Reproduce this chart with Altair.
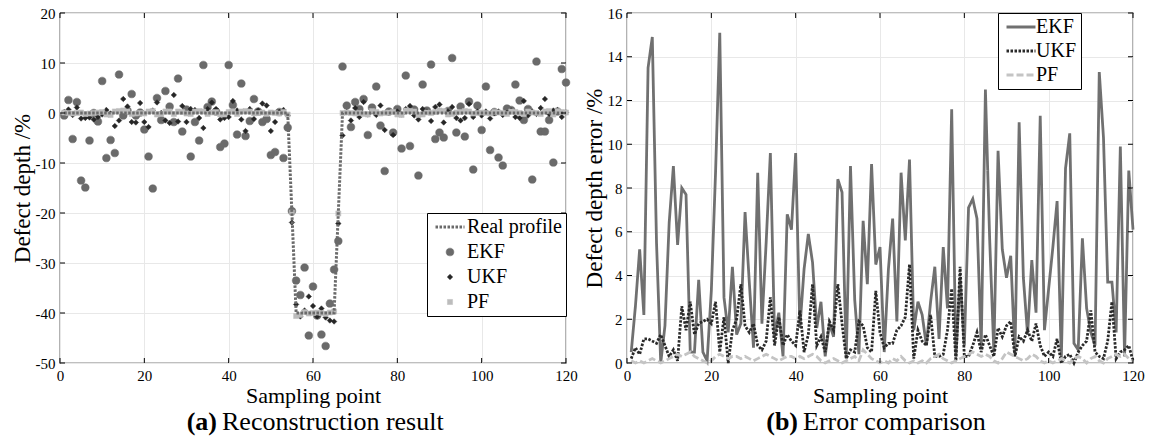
import altair as alt
import pandas as pd

# ---------------- data ----------------
sample = list(range(1, 121))

real_profile = [0.0] * 54 + [-20.0] + [-40.0] * 10 + [-20.0] + [0.0] * 54

ekf = [-0.5, 2.6, -5.2, 2.2, -13.5, -14.9, -5.5, 0.0, -1.7, 6.4,
       -9.0, -5.4, -8.0, 7.7, -0.5, 0.5, 3.8, -0.5, 0.1, -3.3,
       -8.7, -15.1, 3.0, -1.4, 4.4, 1.3, -1.8, 6.9, -3.7, 0.7,
       -8.7, -1.8, -5.5, 9.6, 1.2, 2.3, 0.3, -6.8, -6.1, 9.6,
       1.6, -4.3, 5.9, -4.6, -1.6, 2.8, 0.3, -1.8, -1.2, -8.4,
       -7.8, 0.2, -9.0, -2.9, -19.6, -33.5, -36.4, -30.9, -44.5, -34.7,
       -40.5, -44.3, -46.6, -38.1, -31.3, -25.6, 9.3, 1.5, -2.8, 2.2,
       0.8, 2.8, -4.4, 1.1, 5.3, -2.5, -11.6, 0.3, -3.9, 0.8,
       -7.1, 7.5, -6.6, 0.7, -12.5, 5.7, 0.5, 9.7, -5.2, -3.9,
       -4.9, 0.4, 11.0, -3.9, 1.3, -4.7, 2.3, -11.3, 1.5, -3.4,
       5.3, -7.4, 0.2, -8.9, -10.5, 0.9, 0.6, 5.7, 2.5, -1.4,
       0.8, -13.3, 10.3, -3.7, -3.7, -1.4, -9.9, 0.3, 8.8, 6.1]

ukf = [0.2, 0.7, -0.4, 1.1, -1.1, -1.0, -0.9, -1.3, -0.8, -0.3,
       0.6, -0.1, -2.6, -1.5, 2.8, 1.3, -1.8, -1.9, 2.0, -1.8,
       -2.8, 0.5, 2.1, 0.0, -1.5, -2.0, 3.6, -1.7, 1.4, -1.8,
       0.8, 0.6, -1.0, -3.0, 0.8, 2.1, 0.8, -1.3, -1.0, -0.8,
       2.4, 0.5, -1.3, -3.6, 0.8, -1.2, 0.5, 1.9, 1.5, -3.6,
       -1.8, 0.2, 0.6, -0.5, -21.9, -38.3, -40.7, -39.5, -36.7, -38.6,
       -40.7, -39.1, -40.9, -41.5, -41.7, -22.1, -4.5, 0.2, -1.5, 1.0,
       -0.8, 2.2, -0.3, 0.3, -0.4, 1.5, -3.4, 0.1, -4.4, 0.3,
       -0.3, 0.8, 1.4, -0.5, -1.3, 0.8, 0.3, -1.6, 1.2, 1.7,
       -1.9, 0.3, 1.2, -1.0, -1.5, -1.0, 1.8, -0.8, 0.3, -0.5,
       0.3, -1.1, 0.0, 0.3, -0.4, 0.0, 0.5, -0.8, -1.0, 2.4,
       -0.5, 0.3, -0.2, 1.0, 2.8, -0.2, 0.5, 0.6, -0.8, 0.1]

pf = [0.1, 0.0, -0.1, 0.0, 0.1, -0.2, -0.1, 0.0, 0.1, 0.2,
      -0.3, -0.4, 0.3, 0.4, 0.5, 0.3, -0.2, -0.1, 0.0, -0.1,
      0.3, 0.4, -0.3, -0.2, 0.3, 0.3, -0.2, 0.3, 0.2, -0.1,
      -0.2, 0.3, 0.4, 0.3, -0.2, 0.1, 0.2, -0.3, -0.3, 0.2,
      0.3, -0.2, 0.3, 0.4, 0.3, -0.1, 0.0, 0.1, -0.2, 0.1,
      0.0, -0.1, 0.2, -0.3, -19.9, -40.6, -40.4, -39.8, -40.1, -40.0,
      -39.9, -40.0, -40.2, -39.9, -39.7, -20.1, 0.0, 0.1, 0.0, -0.1,
      0.0, -0.2, -0.3, 0.4, 0.2, -0.1, 0.0, 0.1, 0.2, -0.3,
      -0.4, 0.5, 0.4, 0.3, -0.4, -0.3, 0.1, 0.0, 0.2, 0.5,
      0.4, -0.3, -0.2, 0.1, 0.2, 0.4, 0.3, -0.1, 0.0, 0.1,
      0.0, -0.1, 0.2, 0.1, 0.0, -0.2, 0.3, 0.2, 0.0, -0.2,
      0.3, 0.1, 0.0, -0.2, 0.3, 0.4, -0.3, 0.4, 0.2, 0.1]

ekf_err = [0.5, 2.6, 5.2, 2.2, 13.5, 14.9, 5.5, 0.0, 1.7, 6.4,
           9.0, 5.4, 8.0, 7.7, 0.5, 0.5, 3.8, 0.5, 0.1, 3.3,
           8.7, 15.1, 3.0, 1.4, 4.4, 1.3, 1.8, 6.9, 3.7, 0.7,
           8.7, 1.8, 5.5, 9.6, 1.2, 2.3, 0.3, 6.8, 6.1, 9.6,
           1.6, 4.3, 5.9, 4.6, 1.6, 2.8, 0.3, 1.8, 1.2, 8.4,
           7.8, 0.2, 9.0, 2.9, 0.4, 6.5, 3.6, 9.1, 4.5, 5.3,
           0.5, 4.3, 6.6, 1.9, 8.7, 5.6, 9.3, 1.5, 2.8, 2.2,
           0.8, 2.8, 4.4, 1.1, 5.3, 2.5, 11.6, 0.3, 3.9, 0.8,
           7.1, 7.5, 6.6, 0.7, 12.5, 5.7, 0.5, 9.7, 5.2, 3.9,
           4.9, 0.4, 11.0, 3.9, 1.3, 4.7, 2.3, 11.3, 1.5, 3.4,
           5.3, 7.4, 0.2, 8.9, 10.5, 0.9, 0.6, 5.7, 2.5, 1.4,
           0.8, 13.3, 10.3, 3.7, 3.7, 1.4, 9.9, 0.3, 8.8, 6.1]

ukf_err = [0.2, 0.7, 0.4, 1.1, 1.1, 1.0, 0.9, 1.3, 0.8, 0.3,
           0.6, 0.1, 2.6, 1.5, 2.8, 1.3, 1.8, 1.9, 2.0, 1.8,
           2.8, 0.5, 2.1, 0.0, 1.5, 2.0, 3.6, 1.7, 1.4, 1.8,
           0.8, 0.6, 1.0, 3.0, 0.8, 2.1, 0.8, 1.3, 1.0, 0.8,
           2.4, 0.5, 1.3, 3.6, 0.8, 1.2, 0.5, 1.9, 1.5, 3.6,
           1.8, 0.2, 0.6, 0.5, 1.9, 1.7, 0.7, 0.5, 3.3, 1.4,
           0.7, 0.9, 0.9, 1.5, 1.7, 2.1, 4.5, 0.2, 1.5, 1.0,
           0.8, 2.2, 0.3, 0.3, 0.4, 1.5, 3.4, 0.1, 4.4, 0.3,
           0.3, 0.8, 1.4, 0.5, 1.3, 0.8, 0.3, 1.6, 1.2, 1.7,
           1.9, 0.3, 1.2, 1.0, 1.5, 1.0, 1.8, 0.8, 0.3, 0.5,
           0.3, 1.1, 0.0, 0.3, 0.4, 0.0, 0.5, 0.8, 1.0, 2.4,
           0.5, 0.3, 0.2, 1.0, 2.8, 0.2, 0.5, 0.6, 0.8, 0.1]

pf_err = [0.1, 0.0, 0.1, 0.0, 0.1, 0.2, 0.1, 0.0, 0.1, 0.2,
          0.3, 0.4, 0.3, 0.4, 0.5, 0.3, 0.2, 0.1, 0.0, 0.1,
          0.3, 0.4, 0.3, 0.2, 0.3, 0.3, 0.2, 0.3, 0.2, 0.1,
          0.2, 0.3, 0.4, 0.3, 0.2, 0.1, 0.2, 0.3, 0.3, 0.2,
          0.3, 0.2, 0.3, 0.4, 0.3, 0.1, 0.0, 0.1, 0.2, 0.1,
          0.0, 0.1, 0.2, 0.3, 0.1, 0.6, 0.4, 0.2, 0.1, 0.0,
          0.1, 0.0, 0.2, 0.1, 0.3, 0.1, 0.0, 0.1, 0.0, 0.1,
          0.0, 0.2, 0.3, 0.4, 0.2, 0.1, 0.0, 0.1, 0.2, 0.3,
          0.4, 0.5, 0.4, 0.3, 0.4, 0.3, 0.1, 0.0, 0.2, 0.5,
          0.4, 0.3, 0.2, 0.1, 0.2, 0.4, 0.3, 0.1, 0.0, 0.1,
          0.0, 0.1, 0.2, 0.1, 0.0, 0.2, 0.3, 0.2, 0.0, 0.2,
          0.3, 0.1, 0.0, 0.2, 0.3, 0.4, 0.3, 0.4, 0.2, 0.1]

left_series = ["Real profile", "EKF", "UKF", "PF"]
right_series = ["EKF", "UKF", "PF"]
left_y_ticks = [-50, -40, -30, -20, -10, 0, 10, 20]
right_y_ticks = [0, 2, 4, 6, 8, 10, 12, 14, 16]
x_ticks = [0, 20, 40, 60, 80, 100, 120]
cap_a = ["(a)", "Reconstruction result"]
cap_b = ["(b)", "Error comparison"]

# ---------------- styling ----------------
FONT = "Liberation Serif"
W, H = 506, 350
TICK = 5
LINE_SYMBOL = "M-2,0H2"

real_df = pd.DataFrame({"x": sample, "y": real_profile, "series": "Real profile"})
est_df = pd.concat([
    pd.DataFrame({"x": sample, "y": ekf, "series": "EKF"}),
    pd.DataFrame({"x": sample, "y": ukf, "series": "UKF"}),
    pd.DataFrame({"x": sample, "y": pf, "series": "PF"}),
])
err_df = pd.concat([
    pd.DataFrame({"x": sample, "y": ekf_err, "series": "EKF"}),
    pd.DataFrame({"x": sample, "y": ukf_err, "series": "UKF"}),
    pd.DataFrame({"x": sample, "y": pf_err, "series": "PF"}),
])

xscale = alt.Scale(domain=[0, 120], nice=False)
xaxis = alt.Axis(values=x_ticks, title="Sampling point", labelFlush=False,
                 titleFontSize=22, titlePadding=2)
xenc = alt.X("x:Q", scale=xscale, axis=xaxis)


def inner_ticks(yvals, yscale, yaxis):
    """Inward tick marks on all four sides of a panel (positions via the scales)."""
    xt = pd.DataFrame({"v": x_ticks})
    yt = pd.DataFrame({"v": yvals})
    xv = alt.X("v:Q", scale=xscale, axis=xaxis)
    yv = alt.Y("v:Q", scale=yscale, axis=yaxis)
    base_x = alt.Chart(xt).mark_rule(color="black", strokeWidth=1)
    base_y = alt.Chart(yt).mark_rule(color="black", strokeWidth=1)
    return alt.layer(
        base_x.encode(x=xv, y=alt.value(H), y2=alt.value(H - TICK)),
        base_x.encode(x=xv, y=alt.value(0), y2=alt.value(TICK)),
        base_y.encode(y=yv, x=alt.value(0), x2=alt.value(TICK)),
        base_y.encode(y=yv, x=alt.value(W), x2=alt.value(W - TICK)),
    )


def caption(parts, x_bold, y_pos):
    d1 = pd.DataFrame({"t": [parts[0]]})
    d2 = pd.DataFrame({"t": [parts[1]]})
    c1 = alt.Chart(d1).mark_text(font=FONT, fontSize=26, fontWeight="bold", align="right",
                                 baseline="alphabetic", color="black").encode(
        text="t:N", x=alt.value(x_bold), y=alt.value(y_pos))
    c2 = alt.Chart(d2).mark_text(font=FONT, fontSize=26, align="left",
                                 baseline="alphabetic", color="black").encode(
        text="t:N", x=alt.value(x_bold + 5), y=alt.value(y_pos))
    return c1 + c2


# ---------------- left panel ----------------
left_leg = alt.Legend(orient="none", legendX=367, legendY=200, title=None,
                      strokeColor="black", fillColor="white", padding=4,
                      rowPadding=5, symbolOffset=9, labelOffset=7)
L_COLORS = ["#6a6a6a", "#6a6a6a", "#262626", "#bcbcbc"]
l_color = alt.Color("series:N", scale=alt.Scale(domain=left_series, range=L_COLORS), legend=left_leg)
l_stroke = alt.Stroke("series:N", scale=alt.Scale(domain=left_series, range=L_COLORS), legend=left_leg)
l_shape = alt.Shape("series:N", scale=alt.Scale(domain=left_series,
                    range=[LINE_SYMBOL, "circle", "diamond", "square"]), legend=left_leg)
l_size = alt.Size("series:N", scale=alt.Scale(type="ordinal", domain=left_series,
                  range=[210, 60, 30, 26]), legend=left_leg)
l_width = alt.StrokeWidth("series:N", scale=alt.Scale(type="ordinal", domain=left_series,
                          range=[3, 0.5, 0.5, 0.5]), legend=left_leg)
l_dash = alt.StrokeDash("series:N", scale=alt.Scale(domain=left_series,
                        range=[[2.5, 1.5], [1, 0], [1, 0], [1, 0]]), legend=left_leg)

ylscale = alt.Scale(domain=[-50, 20], nice=False)
ylaxis = alt.Axis(values=left_y_ticks, title="Defect depth /%", labelExpr="'' + datum.value")
yl = alt.Y("y:Q", scale=ylscale, axis=ylaxis)

pts = alt.Chart(est_df).mark_point(filled=True, opacity=1).encode(
    x=xenc, y=yl, color=l_color, stroke=l_stroke, shape=l_shape, size=l_size,
    strokeWidth=l_width, strokeDash=l_dash)

real_line = alt.Chart(real_df).mark_line().encode(
    x=xenc, y=yl, color=l_color, strokeDash=l_dash, strokeWidth=l_width)

left = alt.layer(pts, real_line, inner_ticks(left_y_ticks, ylscale, ylaxis),
                 caption(cap_a, 157, 417)).properties(width=W, height=H)

# ---------------- right panel ----------------
right_leg = alt.Legend(orient="none", legendX=371, legendY=0, title=None,
                       strokeColor="black", fillColor="white", padding=4,
                       rowPadding=4, symbolOffset=9, labelOffset=5,
                       symbolStrokeWidth=3, symbolSize=210, symbolType=LINE_SYMBOL)
yrscale = alt.Scale(domain=[0, 16], nice=False)
yraxis = alt.Axis(values=right_y_ticks, title="Defect depth error /%")
yr = alt.Y("y:Q", scale=yrscale, axis=yraxis)
err_lines = alt.Chart(err_df).mark_line(strokeWidth=2.8).encode(
    x=xenc, y=yr,
    color=alt.Color("series:N", scale=alt.Scale(domain=right_series,
                    range=["#707070", "#2a2a2a", "#c4c4c4"]), legend=right_leg),
    strokeDash=alt.StrokeDash("series:N", scale=alt.Scale(domain=right_series,
                              range=[[1, 0], [2.5, 1.5], [7, 3]]), legend=right_leg),
)
right = alt.layer(err_lines, inner_ticks(right_y_ticks, yrscale, yraxis),
                  caption(cap_b, 171, 417)).properties(width=W, height=H)

chart = alt.hconcat(left, right, spacing=61, bounds="flush").resolve_scale(
    x="independent", y="independent", color="independent", stroke="independent",
    shape="independent", size="independent", strokeDash="independent",
    strokeWidth="independent",
).properties(
    padding={"left": 10, "top": 5, "right": 5, "bottom": 0},
).configure_view(stroke="black", strokeWidth=1.2).configure_axis(
    labelFont=FONT, labelFontSize=15, labelColor="black", labelPadding=5,
    titleFont=FONT, titleFontSize=23, titleFontWeight="normal", titleColor="black",
    titlePadding=1, domain=False, ticks=False, grid=True, gridColor="#e8e8e8",
).configure_legend(
    labelFont=FONT, labelFontSize=20, labelColor="black", cornerRadius=0,
)

chart.save("out.html", embed_options={"renderer": "svg", "actions": False})
